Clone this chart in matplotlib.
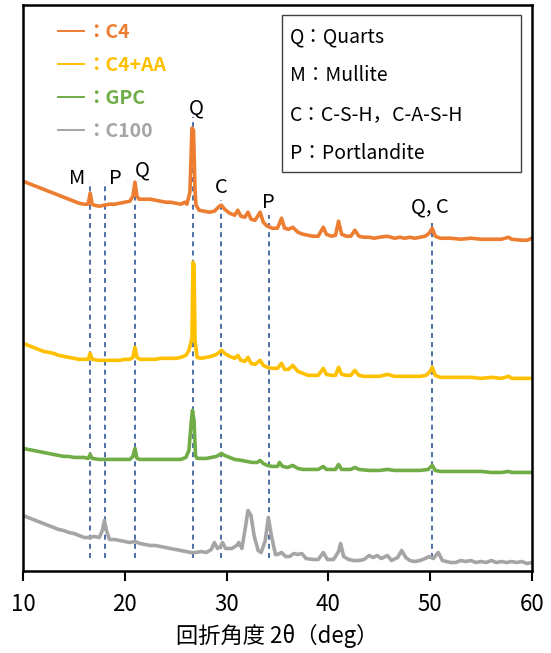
import matplotlib
matplotlib.use("Agg")
import matplotlib.pyplot as plt
from matplotlib.lines import Line2D
from matplotlib.patches import Rectangle

plt.rcParams['font.family'] = ['Noto Sans CJK JP', 'DejaVu Sans']

# ---- data (2theta in deg, intensity in a.u. with offsets) ----
c4_x = [10.0, 10.5, 11.0, 11.5, 12.0, 12.5, 13.0, 13.5, 14.0, 14.5, 15.0, 15.5,
        16.0, 16.4, 16.6, 16.8, 17.0, 17.5, 18.0, 18.5, 19.0, 19.5, 20.0, 20.5,
        20.8, 21.0, 21.2, 21.4, 22.0, 22.5, 23.0, 23.5, 24.0, 24.5, 25.0, 25.5,
        25.9, 26.1, 26.4, 26.6, 26.75, 26.9, 27.0, 27.3, 27.8, 28.3, 28.8, 29.3,
        29.5, 29.8, 30.3, 30.8, 31.1, 31.4, 31.8, 32.1, 32.4, 32.8, 33.3, 33.6,
        34.0, 34.5, 35.0, 35.4, 35.7, 36.1, 36.5, 37.0, 37.5, 38.0, 38.5, 39.0,
        39.5, 39.8, 40.3, 40.7, 41.0, 41.3, 41.8, 42.2, 42.6, 43.0, 43.5, 44.0,
        44.5, 45.0, 45.8, 46.5, 47.0, 47.5, 48.0, 48.5, 49.0, 49.5, 49.9, 50.2,
        50.5, 51.0, 52.0, 53.0, 54.0, 55.0, 56.0, 57.0, 57.7, 58.0, 59.0, 59.5,
        60.0]
c4_y = [389, 387, 385, 383, 381, 379, 377, 375, 373, 371, 369, 367,
        366, 366, 377, 366, 365, 364, 365, 366, 366, 367, 368, 369,
        374, 388, 374, 371, 371, 371, 370, 369, 368, 368, 367, 366,
        368, 366, 378, 442, 440, 380, 365, 360, 359, 358, 359, 364,
        365, 361, 357, 355, 360, 354, 353, 358, 351, 350, 358, 348,
        344, 342, 342, 352, 342, 341, 343, 338, 336, 335, 334, 334,
        343, 336, 334, 335, 349, 336, 334, 334, 340, 334, 333, 333,
        332, 333, 334, 332, 333, 332, 333, 332, 333, 334, 337, 342,
        334, 332, 332, 331, 332, 331, 331, 331, 333, 331, 330, 330,
        332]

c4aa_x = [10.0, 10.5, 11.0, 11.5, 12.0, 12.5, 13.0, 13.5, 14.0, 14.5, 15.0, 15.5,
          16.0, 16.4, 16.6, 16.8, 17.5, 18.0, 18.5, 19.0, 19.5, 20.0, 20.5, 20.8,
          21.0, 21.2, 21.5, 22.0, 22.5, 23.0, 23.5, 24.0, 24.5, 25.0, 25.5, 26.0,
          26.3, 26.6, 26.7, 26.8, 26.9, 27.1, 27.5, 28.0, 28.5, 29.0, 29.5, 29.8,
          30.3, 30.8, 31.1, 31.4, 31.8, 32.1, 32.4, 32.8, 33.3, 33.6, 34.0, 34.5,
          35.0, 35.4, 35.7, 36.1, 36.5, 37.0, 37.5, 38.0, 38.5, 39.0, 39.5, 39.8,
          40.3, 40.7, 41.0, 41.3, 41.8, 42.2, 42.6, 43.0, 43.5, 44.0, 45.0, 45.8,
          46.5, 47.0, 48.0, 49.0, 49.6, 50.0, 50.2, 50.5, 51.0, 52.0, 53.0, 54.0,
          55.0, 56.0, 57.0, 57.7, 58.0, 59.0, 60.0]
c4aa_y = [227, 225, 223, 221, 219, 218, 217, 215, 214, 213, 212, 211,
          211, 211, 217, 211, 210, 210, 210, 210, 210, 211, 211, 213,
          223, 213, 211, 211, 211, 211, 212, 212, 212, 212, 213, 215,
          220, 232, 308, 306, 230, 213, 212, 213, 214, 216, 220, 217,
          214, 212, 215, 210, 209, 213, 207, 206, 210, 205, 203, 202,
          202, 207, 201, 201, 205, 199, 197, 195, 195, 195, 202, 196,
          195, 195, 203, 196, 195, 195, 200, 195, 194, 194, 194, 196,
          194, 194, 194, 194, 195, 199, 203, 195, 193, 193, 193, 193,
          192, 193, 192, 194, 192, 192, 192]

gpc_x = [10.0, 10.5, 11.0, 11.5, 12.0, 12.5, 13.0, 13.5, 14.0, 14.5, 15.0, 15.5,
         16.0, 16.4, 16.6, 16.8, 17.5, 18.0, 18.5, 19.0, 19.5, 20.0, 20.5, 20.8,
         21.0, 21.2, 21.5, 22.0, 22.5, 23.0, 23.5, 24.0, 24.5, 25.0, 25.5, 26.0,
         26.3, 26.5, 26.65, 26.8, 26.95, 27.1, 27.5, 28.0, 28.5, 29.0, 29.5, 29.8,
         30.3, 30.8, 31.5, 32.0, 32.5, 33.0, 33.3, 33.6, 34.0, 34.5, 35.0, 35.2,
         35.5, 36.0, 36.5, 37.0, 37.5, 38.0, 38.5, 39.0, 39.5, 39.8, 40.3, 40.7,
         41.0, 41.3, 41.8, 42.2, 42.6, 43.0, 44.0, 45.0, 45.8, 46.5, 47.0, 48.0,
         49.0, 49.8, 50.2, 50.5, 51.0, 52.0, 53.0, 54.0, 55.0, 56.0, 57.0, 57.7,
         58.0, 59.0, 60.0]
gpc_y = [122, 121, 120, 119, 118, 117, 116, 115, 114, 114, 113, 113,
         113, 112, 116, 112, 111, 111, 111, 111, 111, 111, 111, 114,
         122, 112, 111, 111, 111, 111, 111, 111, 111, 111, 111, 113,
         120, 145, 160, 150, 115, 112, 112, 112, 113, 114, 117, 115,
         113, 111, 110, 109, 108, 108, 110, 107, 105, 104, 104, 108,
         104, 103, 105, 102, 101, 101, 101, 101, 104, 101, 101, 101,
         106, 101, 101, 101, 103, 101, 100, 100, 101, 100, 100, 100,
         100, 101, 105, 100, 99, 99, 99, 99, 99, 98, 98, 99,
         98, 98, 98]

c100_x = [10.0, 10.5, 11.0, 11.5, 12.0, 12.5, 13.0, 13.5, 14.0, 14.5, 15.0, 15.5,
          16.0, 16.5, 17.0, 17.5, 17.8, 18.0, 18.2, 18.5, 19.0, 19.5, 20.0, 20.5,
          21.0, 21.5, 22.0, 22.5, 23.0, 23.5, 24.0, 24.5, 25.0, 25.5, 26.0, 26.5,
          27.0, 27.5, 28.0, 28.5, 28.8, 29.1, 29.4, 29.6, 29.9, 30.5, 31.0, 31.2,
          31.5, 31.8, 32.1, 32.4, 32.7, 33.1, 33.4, 33.8, 34.1, 34.4, 34.8, 35.0,
          35.4, 35.8, 36.2, 36.6, 37.0, 37.4, 37.8, 38.5, 39.0, 39.5, 39.9, 40.5,
          41.0, 41.2, 41.5, 42.0, 42.5, 43.0, 43.5, 44.0, 44.4, 44.8, 45.2, 45.8,
          46.2, 46.8, 47.2, 47.6, 48.0, 48.5, 49.0, 49.5, 49.9, 50.3, 50.8, 51.2,
          52.0, 52.5, 53.0, 53.5, 54.0, 54.5, 55.0, 55.5, 56.0, 56.5, 57.0, 57.5,
          58.0, 58.5, 59.0, 59.5, 60.0]
c100_y = [55, 53, 51, 49, 47, 45, 43, 41, 40, 38, 37, 35,
          33, 33, 34, 33, 40, 50, 40, 31, 31, 30, 29, 28,
          29, 27, 26, 25, 25, 24, 23, 22, 21, 20, 19, 18,
          18, 19, 18, 21, 28, 22, 24, 28, 22, 22, 25, 28,
          22, 40, 60, 55, 35, 20, 18, 30, 53, 35, 16, 16,
          18, 14, 14, 17, 16, 17, 12, 11, 11, 18, 11, 11,
          19, 27, 14, 11, 10, 10, 11, 15, 13, 15, 12, 15,
          10, 13, 20, 13, 10, 9, 10, 12, 14, 12, 18, 10,
          8, 8, 10, 9, 10, 8, 9, 8, 10, 8, 9, 8,
          9, 8, 9, 7, 8]

series = [
    ("：C4", c4_x, c4_y, "#ED7D31"),
    ("：C4+AA", c4aa_x, c4aa_y, "#FFC000"),
    ("：GPC", gpc_x, gpc_y, "#70AD47"),
    ("：C100", c100_x, c100_y, "#A5A5A5"),
]

# reference lines for phases
peak_pos = [16.6, 18.1, 21.0, 26.7, 29.5, 34.2, 50.2]
peak_top = [388, 388, 380, 453, 370, 355, 348]
peak_labels = ["M", "P", "Q", "Q", "C", "P", "Q, C"]
label_x = [15.3, 19.1, 21.7, 27.0, 29.5, 34.1, 50.0]
label_y = [392, 392, 400, 462, 383, 368, 363]

phase_text = ["Q：Quarts", "M：Mullite", "C：C-S-H，C-A-S-H", "P：Portlandite"]

fig = plt.figure(figsize=(5.51, 6.53), dpi=100)
ax = fig.add_axes([0.0417, 0.1263, 0.9238, 0.866])

for pos, top in zip(peak_pos, peak_top):
    ax.vlines(pos, 13, top, colors="#2F5597", linestyles=(0, (3, 2.5)),
              linewidth=1.2, zorder=1)

handles = []
for name, xs, ys, col in series:
    ax.plot(xs, ys, color=col, lw=2.6, zorder=2, solid_joinstyle="round")
    handles.append(Line2D([], [], color=col, lw=1.4))

for t, x, y in zip(peak_labels, label_x, label_y):
    ax.text(x, y, t, fontsize=14.5, ha="center", va="center")

leg = ax.legend(handles, [s[0] for s in series], loc="upper left",
                bbox_to_anchor=(0.035, 1.0), frameon=False,
                handlelength=1.3, handletextpad=0.15, labelspacing=0.72,
                prop={"size": 14, "weight": "bold"})
for txt, s in zip(leg.get_texts(), series):
    txt.set_color(s[3])

ax.add_patch(Rectangle((0.509, 0.704), 0.470, 0.278, transform=ax.transAxes,
                       fill=False, edgecolor="#404040", lw=1.0, zorder=3))
for i, t in enumerate(phase_text):
    ax.text(0.5246, 0.943 - i * 0.0683, t, transform=ax.transAxes,
            fontsize=14, ha="left", va="center")

ax.set_xlim(10, 60)
ax.set_ylim(0, 565)
ax.set_xticks([10, 20, 30, 40, 50, 60])
ax.set_yticks([])
ax.tick_params(axis="x", direction="out", length=7, width=1.5,
               labelsize=16, pad=9)
for sp in ax.spines.values():
    sp.set_linewidth(1.8)
    sp.set_color("black")
ax.set_xlabel("回折角度 2θ（deg）", fontsize=16, labelpad=6)

fig.savefig("out.png", dpi=100)
